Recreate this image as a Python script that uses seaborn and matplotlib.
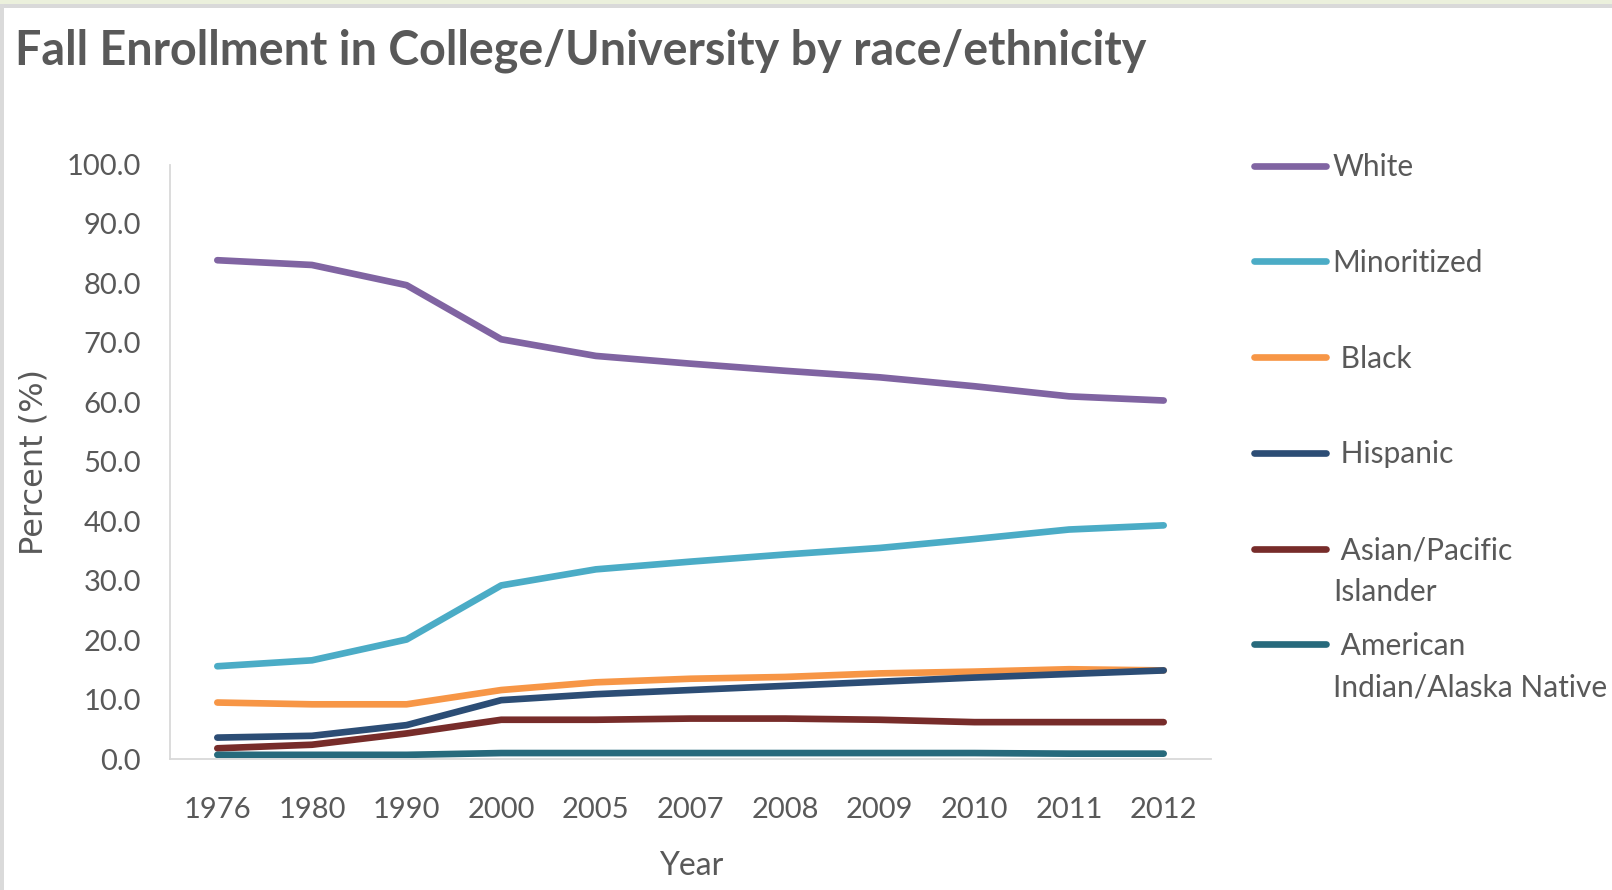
import matplotlib
matplotlib.use("Agg")
import numpy as np
import pandas as pd
import seaborn as sns
import matplotlib.pyplot as plt
from matplotlib.lines import Line2D
from matplotlib.patches import Rectangle

# ---------------- data ----------------
years = ["1976", "1980", "1990", "2000", "2005", "2007", "2008", "2009", "2010", "2011", "2012"]
white = [83.9, 83.1, 79.7, 70.6, 67.8, 66.5, 65.3, 64.2, 62.7, 61.0, 60.3]
minoritized = [15.6, 16.6, 20.1, 29.2, 31.9, 33.2, 34.4, 35.5, 37.0, 38.6, 39.3]
black = [9.5, 9.2, 9.2, 11.6, 12.9, 13.5, 13.8, 14.4, 14.7, 15.1, 14.9]
hispanic = [3.6, 3.9, 5.7, 9.9, 10.9, 11.6, 12.3, 13.0, 13.7, 14.3, 14.9]
asian_pi = [1.8, 2.4, 4.3, 6.6, 6.6, 6.8, 6.8, 6.6, 6.2, 6.2, 6.2]
aian = [0.7, 0.7, 0.7, 1.0, 1.0, 1.0, 1.0, 1.0, 1.0, 0.9, 0.9]

groups = ["White", "Minoritized", "Black", "Hispanic", "Asian/Pacific Islander",
          "American Indian/Alaska Native"]
series = [white, minoritized, black, hispanic, asian_pi, aian]
colors = ["#8064A2", "#4BACC6", "#F79646", "#2C4D75", "#772C2A", "#276A7C"]
legend_first = ["White", "Minoritized", " Black", " Hispanic", " Asian/Pacific", " American"]
legend_cont = {4: "Islander", 5: "Indian/Alaska Native"}
yticks = [0, 10, 20, 30, 40, 50, 60, 70, 80, 90, 100]

df = pd.concat(
    [pd.DataFrame({"Year": years, "Percent": vals, "Group": g}) for g, vals in zip(groups, series)],
    ignore_index=True,
)

# ---------------- style ----------------
sns.set_theme(style="white")
plt.rcParams['font.family'] = ['Lato', 'DejaVu Sans']
TXT = "#595959"
W, H = 1612, 890

fig = plt.figure(figsize=(W / 100, H / 100), dpi=100)
fig.patch.set_facecolor("white")

# frame decoration (screenshot border)
fig.patches.append(Rectangle((0, 1 - 4 / H), 1, 4 / H, transform=fig.transFigure,
                             facecolor="#EBF0DC", edgecolor="none", zorder=0))
fig.patches.append(Rectangle((0, 1 - 8 / H), 1, 4 / H, transform=fig.transFigure,
                             facecolor="#D9D9D9", edgecolor="none", zorder=0))
fig.patches.append(Rectangle((0, 0), 4 / W, 1 - 4 / H, transform=fig.transFigure,
                             facecolor="#DADADA", edgecolor="none", zorder=0))

ax_l, ax_r, ax_t, ax_b = 170, 1211, 164.5, 759
ax = fig.add_axes([ax_l / W, 1 - ax_b / H, (ax_r - ax_l) / W, (ax_b - ax_t) / H])

sns.lineplot(data=df, x="Year", y="Percent", hue="Group", hue_order=groups,
             palette=colors, linewidth=4.8, sort=False, legend=False, ax=ax,
             solid_capstyle="round", solid_joinstyle="round")

ax.set_xlim(-0.5, len(years) - 0.5)
ax.set_ylim(0, 100)
ax.set_yticks(yticks)
ax.set_yticklabels([f"{v:.1f}" for v in yticks])
for s in ["top", "right"]:
    ax.spines[s].set_visible(False)
for s in ["left", "bottom"]:
    ax.spines[s].set_color("#D9D9D9")
    ax.spines[s].set_linewidth(1.3)
ax.tick_params(axis="both", length=0, labelsize=21, labelcolor=TXT)
ax.tick_params(axis="y", pad=21)
ax.tick_params(axis="x", pad=27)
ax.grid(False)

ax.set_xlabel("Year", fontsize=23, color=TXT)
ax.set_ylabel("Percent (%)", fontsize=23, color=TXT, family=["DejaVu Sans"])
ax.xaxis.set_label_coords((691 - ax_l) / (ax_r - ax_l), (ax_b - 866) / (ax_b - ax_t))
ax.yaxis.set_label_coords((34 - ax_l) / (ax_r - ax_l), (ax_b - 462) / (ax_b - ax_t))
ax.xaxis.label.set_va("center")
ax.yaxis.label.set_va("center")

# title
fig.text(15 / W, 1 - 51 / H, "Fall Enrollment in College/University by race/ethnicity",
         ha="left", va="center", fontsize=33.6, fontweight="bold", color=TXT)

# legend
handles = [Line2D([0], [0], color=c, lw=4.8, solid_capstyle="round") for c in colors]
leg = ax.legend(handles, legend_first, loc="upper left",
                bbox_to_anchor=(1254 / W, 1 - 153 / H), bbox_transform=fig.transFigure,
                frameon=False, borderpad=0, borderaxespad=0, handlelength=2.4,
                handletextpad=0.23, labelspacing=2.27, fontsize=21.5, labelcolor=TXT)
for i, txt in legend_cont.items():
    y = [592, 687][i - 4]
    fig.text(1333 / W, 1 - y / H, txt, ha="left", va="center", fontsize=21.5, color=TXT)

fig.savefig("out.png", dpi=100)
